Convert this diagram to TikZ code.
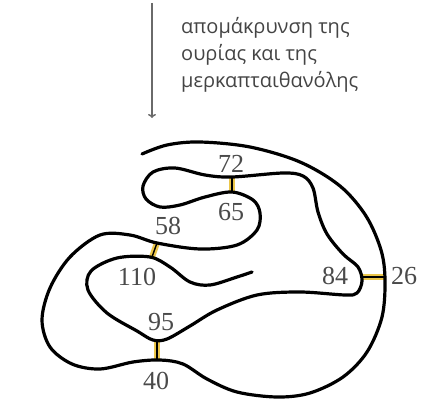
\documentclass[tikz,border=0pt]{standalone}
\usepackage{fontspec}
\setmainfont{Liberation Serif}
\newfontfamily\greekfont{Open Sans}
\usetikzlibrary{arrows.meta}
\definecolor{bondyellow}{HTML}{EBC64A}
\definecolor{labelgray}{HTML}{4A4A4A}
\definecolor{textgray}{HTML}{444444}
\definecolor{arrowgray}{HTML}{6A6A6A}
\tikzset{
  chain/.style={line width=3.2pt, line cap=round, line join=round},
  bondglow/.style={bondyellow, line width=6pt},
  bondcore/.style={black, line width=1.4pt},
  resnum/.style={text=labelgray, font=\fontsize{26}{26}\selectfont, inner sep=0pt},
  caption/.style={text=textgray, font=\greekfont\fontsize{20}{27}\selectfont,
    align=left, anchor=north west, inner sep=0pt},
  steparrow/.style={arrowgray, line width=1.5pt, -{To[length=4pt,width=8pt]}}
}
\begin{document}
\begin{tikzpicture}[x=1pt, y=-1pt]
\useasboundingbox (0,0) rectangle (422,404);

% reaction arrow and its caption
\coordinate (arrtop) at (152,3);
\coordinate (arrbot) at (152,118);
\draw[steparrow] (arrtop) -- (arrbot);
\node[caption] (cap) at (181,17) {απομάκρυνση της\\ουρίας και της\\μερκαπταιθανόλης};

% disulfide bond end points
\coordinate (c72) at (232,177);
\coordinate (c65) at (232,192);
\coordinate (c58) at (157,243);
\coordinate (c110) at (152,257);
\coordinate (c95) at (157,340);
\coordinate (c40) at (157,361);
\coordinate (c84) at (362,277);
\coordinate (c26) at (385,277);

% disulfide bridges
\foreach \a/\b in {c72/c65, c58/c110, c95/c40, c84/c26} {
  \draw[bondglow] (\a) -- (\b);
}

% polypeptide chain
\draw[chain] plot[smooth, tension=0.55] coordinates {
  (142,154) (167,145) (200,142) (250,147) (300,162) (340,186) (366,216)
  (381,250) (385,280) (382,317) (367,352) (343,377) (310,393) (277,397)
  (237,392) (207,379) (183,364) (160,360) (133,362) (100,369) (72,364)
  (50,347) (42,320) (50,288) (70,257) (100,235) (130,235) (157,243)
  (200,249) (237,245) (257,230) (260,213) (253,200) (232,192) (205,197)
  (180,205) (160,207) (146,199) (143,186) (153,172) (175,168) (205,175)
  (232,177) (283,173) (303,176) (313,188) (318,212) (327,234) (343,254)
  (358,267) (362,281) (357,293) (345,295) (300,292) (257,295) (217,310)
  (190,326) (167,339) (153,340) (137,331) (107,313) (88,290) (91,271)
  (117,258) (150,257) (170,267) (190,282) (210,285) (237,277) (252,272)
};

% bond cores drawn over the chain
\foreach \a/\b in {c72/c65, c58/c110, c95/c40, c84/c26} {
  \draw[bondcore] (\a) -- (\b);
}

% residue numbers
\node[resnum] (n72) at (231,164) {72};
\node[resnum] (n65) at (231,212) {65};
\node[resnum] (n58) at (168,226) {58};
\node[resnum] (n110) at (137,277) {110};
\node[resnum] (n95) at (161,322) {95};
\node[resnum] (n40) at (156,381) {40};
\node[resnum] (n84) at (335,276) {84};
\node[resnum] (n26) at (404,276) {26};
\end{tikzpicture}
\end{document}
